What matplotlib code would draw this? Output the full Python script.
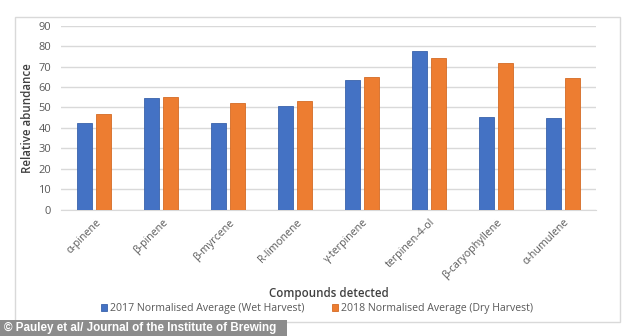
import matplotlib
matplotlib.use('Agg')
import matplotlib.pyplot as plt
import matplotlib.transforms as mtransforms
from matplotlib.patches import Rectangle
import numpy as np

compounds = ['α-pinene', 'β-pinene', 'β-myrcene', 'R-limonene', 'γ-terpinene',
             'terpinen-4-ol', 'β-caryophyllene', 'α-humulene']
wet_2017 = [42.4, 54.6, 42.6, 50.6, 63.3, 77.6, 45.2, 44.9]
dry_2018 = [46.7, 55.0, 52.2, 53.2, 64.9, 74.1, 71.9, 64.4]
yticks = list(range(0, 91, 10))

plt.rcParams['font.family'] = ['Open Sans', 'DejaVu Sans']

fig = plt.figure(figsize=(6.34, 3.36), dpi=100)
fig.patch.set_facecolor('white')

# chart frame
fig.patches.append(Rectangle((15 / 634, 1 - 322 / 336), 605 / 634, 305 / 336,
                             transform=fig.transFigure, fill=False,
                             edgecolor='#d9d9d9', linewidth=1))

ax = fig.add_axes([61 / 634, 1 - 209.7 / 336, 535 / 634, 184 / 336])
x = np.arange(len(compounds))
w = 0.225
gap = 0.03
b1 = ax.bar(x - w / 2 - gap, wet_2017, w, color='#4472C4', edgecolor='#3a62ab',
            linewidth=0.6, label='2017 Normalised Average (Wet Harvest)', zorder=3)
b2 = ax.bar(x + w / 2 + gap, dry_2018, w, color='#ED7D31', edgecolor='#d46b25',
            linewidth=0.6, label='2018 Normalised Average (Dry Harvest)', zorder=3)

ax.set_xlim(-0.5, len(compounds) - 0.5)
ax.set_ylim(0, 90)
ax.set_yticks(yticks)
ax.yaxis.grid(True, color='#d9d9d9', linewidth=1, zorder=0)
for s in ['top', 'right', 'left']:
    ax.spines[s].set_visible(False)
ax.spines['bottom'].set_color('#d9d9d9')
ax.tick_params(axis='y', length=0, labelsize=8, colors='#595959', pad=7)
ax.tick_params(axis='x', length=0, labelsize=7.7, colors='#595959', pad=6)
ax.set_xticks(x)
ax.set_xticklabels(compounds, rotation=45, ha='right', va='center', rotation_mode='anchor')
offset = mtransforms.ScaledTranslation(5 / 100, -3 / 100, fig.dpi_scale_trans)
for lab in ax.get_xticklabels():
    lab.set_transform(lab.get_transform() + offset)
ax.set_ylabel('Relative abundance', fontsize=8.3, color='#404040', fontweight='semibold', labelpad=3)
ax.set_xlabel('Compounds detected', fontsize=8.3, color='#404040', fontweight='semibold', labelpad=4)

fig.legend(handles=[b1, b2], loc='center', bbox_to_anchor=(0.5, 1 - 309 / 336),
           ncol=2, frameon=False, fontsize=7.6, handlelength=0.6, handleheight=0.6,
           columnspacing=2.6, handletextpad=0.3, labelcolor='#595959')

# watermark
fig.patches.append(Rectangle((0, 0), 287 / 634, 16 / 336, transform=fig.transFigure,
                             facecolor='#8c8c8c', edgecolor='none'))
fig.text(4 / 634, 8 / 336, '© Pauley et al/ Journal of the Institute of Brewing',
         color='white', fontsize=8.4, fontweight='bold', va='center', ha='left',
         family=['Liberation Sans', 'DejaVu Sans'])

plt.savefig('out.png', dpi=100)
